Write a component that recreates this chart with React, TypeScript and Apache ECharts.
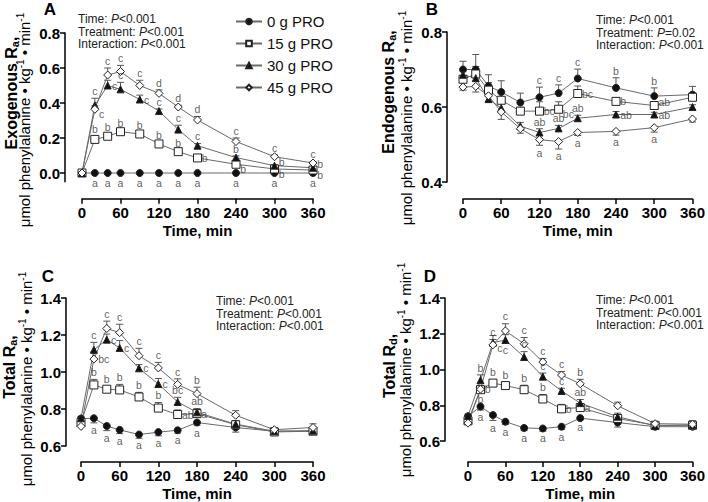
import React, { useEffect, useRef } from 'react';
import * as echarts from 'echarts';

const FONT = '"Liberation Sans", Arial, Helvetica, sans-serif';

// ---------- shared ----------
const times = [0, 20, 40, 60, 90, 120, 150, 180, 240, 300, 360];
const groups = ['0 g PRO', '15 g PRO', '30 g PRO', '45 g PRO'];
const xTicks = [0, 60, 120, 180, 240, 300, 360];

// Letter codes: "letter|place" with place u = above, d = below, r = right, ru / rd = right, nudged up / down

// ---------- Panel A: Exogenous Ra ----------
const exoMean0 = [0, 0, 0, 0, 0, 0, 0, 0, 0, 0, 0];
const exoMean15 = [0, 0.192, 0.21, 0.236, 0.223, 0.166, 0.122, 0.086, 0.05, 0.023, 0.017];
const exoMean30 = [0, 0.387, 0.5, 0.478, 0.42, 0.354, 0.248, 0.156, 0.088, 0.042, 0.03];
const exoMean45 = [0, 0.364, 0.56, 0.58, 0.5, 0.455, 0.377, 0.303, 0.18, 0.093, 0.057];
const exoSem0 = [0, 0, 0, 0, 0, 0, 0, 0, 0, 0, 0];
const exoSem15 = [0, 0.02, 0.01, 0.01, 0.01, 0.008, 0.006, 0.005, 0.005, 0.003, 0.003];
const exoSem30 = [0, 0.04, 0.03, 0.04, 0.025, 0.012, 0.025, 0.012, 0.01, 0.005, 0.005];
const exoSem45 = [0, 0.02, 0.04, 0.035, 0.03, 0.02, 0.01, 0.02, 0.02, 0.01, 0.008];
const exoLet0 = ['', 'a|d', 'a|d', 'a|d', 'a|d', 'a|d', 'a|d', 'a|d', 'a|d', 'a|d', 'a|d'];
const exoLet15 = ['', 'b|u', 'b|u', 'b|u', 'b|u', 'b|u', 'b|u', 'b|r', 'b|rd', 'b|rd', 'b|rd'];
const exoLet30 = ['', 'c|u', 'c|r', 'c|u', 'c|r', 'c|u', 'c|u', 'c|u', 'b|u', 'b|ru', 'b|ru'];
const exoLet45 = ['', 'c|rd', 'c|u', 'c|u', 'c|u', 'd|u', 'd|u', 'd|u', 'c|u', 'c|u', 'c|u'];
const exoTicks = [0, 0.2, 0.4, 0.6, 0.8];
const exoStats = [['Time', '<0.001'], ['Treatment', '<0.001'], ['Interaction', '<0.001']];

// ---------- Panel B: Endogenous Ra ----------
const endoMean0 = [0.7, 0.7, 0.656, 0.64, 0.612, 0.626, 0.637, 0.676, 0.651, 0.629, 0.633];
const endoMean15 = [0.674, 0.688, 0.645, 0.618, 0.589, 0.589, 0.594, 0.636, 0.615, 0.604, 0.626];
const endoMean30 = [0.686, 0.677, 0.621, 0.597, 0.549, 0.532, 0.543, 0.57, 0.58, 0.58, 0.6];
const endoMean45 = [0.653, 0.655, 0.63, 0.587, 0.542, 0.513, 0.508, 0.532, 0.535, 0.545, 0.568];
const endoSem0 = [0.022, 0.04, 0.03, 0.03, 0.025, 0.027, 0.022, 0.025, 0.027, 0.022, 0.022];
const endoSem15 = [0.01, 0.02, 0.02, 0.02, 0.01, 0.025, 0.02, 0.02, 0.01, 0.01, 0.01];
const endoSem30 = [0.01, 0.015, 0.015, 0.015, 0.01, 0.01, 0.008, 0.008, 0.008, 0.006, 0.006];
const endoSem45 = [0.008, 0.015, 0.015, 0.02, 0.012, 0.015, 0.02, 0.008, 0.01, 0.012, 0.008];
const endoLet0 = ['', '', '', '', '', 'c|u', 'c|u', 'c|u', 'b|u', 'b|u', ''];
const endoLet15 = ['', '', '', '', '', 'bc|r', 'bc|rd', 'bc|r', 'b|r', 'ab|ru', ''];
const endoLet30 = ['', '', '', '', '', 'ab|u', 'ab|u', 'ab|u', 'ab|r', 'ab|r', ''];
const endoLet45 = ['', '', '', '', '', 'a|d', 'a|d', 'a|d', 'a|d', 'a|d', ''];
const endoTicks = [0.4, 0.6, 0.8];
const endoStats = [['Time', '<0.001'], ['Treatment', '=0.02'], ['Interaction', '<0.001']];

// ---------- Panel C: Total Ra ----------
const raMean0 = [0.748, 0.75, 0.708, 0.687, 0.662, 0.675, 0.685, 0.727, 0.7, 0.68, 0.68];
const raMean15 = [0.727, 0.93, 0.907, 0.903, 0.865, 0.805, 0.77, 0.775, 0.715, 0.676, 0.68];
const raMean30 = [0.75, 1.12, 1.175, 1.13, 1.02, 0.935, 0.838, 0.782, 0.718, 0.68, 0.683];
const raMean45 = [0.706, 1.07, 1.235, 1.213, 1.088, 1.022, 0.933, 0.883, 0.766, 0.688, 0.7];
const raSem0 = [0.01, 0.025, 0.025, 0.02, 0.02, 0.02, 0.015, 0.015, 0.025, 0.01, 0.01];
const raSem15 = [0.01, 0.03, 0.015, 0.03, 0.025, 0.03, 0.025, 0.025, 0.02, 0.015, 0.01];
const raSem30 = [0.01, 0.04, 0.03, 0.04, 0.02, 0.03, 0.025, 0.02, 0.02, 0.01, 0.01];
const raSem45 = [0.01, 0.04, 0.04, 0.045, 0.04, 0.03, 0.03, 0.035, 0.025, 0.01, 0.02];
const raLet0 = ['', 'a|d', 'a|d', 'a|d', 'a|d', 'a|d', 'a|d', 'a|d', '', '', ''];
const raLet15 = ['', 'b|u', 'b|u', 'b|u', 'b|u', 'b|u', 'ab|r', 'a|r', '', '', ''];
const raLet30 = ['', 'c|u', 'c|r', 'c|r', 'c|r', 'c|r', 'bc|u', 'ab|u', '', '', ''];
const raLet45 = ['', 'bc|r', 'c|u', 'c|u', 'c|u', 'c|u', 'c|u', 'b|u', '', '', ''];
const raTicks = [0.6, 0.8, 1.0, 1.2, 1.4];
const raStats = [['Time', '<0.001'], ['Treatment', '<0.001'], ['Interaction', '<0.001']];

// ---------- Panel D: Total Rd ----------
const rdMean0 = [0.738, 0.793, 0.745, 0.708, 0.673, 0.67, 0.68, 0.728, 0.703, 0.68, 0.68];
const rdMean15 = [0.713, 0.887, 0.924, 0.91, 0.887, 0.835, 0.78, 0.787, 0.726, 0.688, 0.688];
const rdMean30 = [0.74, 0.94, 1.15, 1.165, 1.07, 0.96, 0.88, 0.812, 0.736, 0.685, 0.69];
const rdMean45 = [0.7, 0.89, 1.138, 1.216, 1.144, 1.042, 0.969, 0.92, 0.797, 0.697, 0.694];
const rdSem0 = [0.01, 0.02, 0.03, 0.015, 0.015, 0.015, 0.015, 0.01, 0.025, 0.015, 0.01];
const rdSem15 = [0.01, 0.02, 0.02, 0.02, 0.025, 0.025, 0.025, 0.02, 0.02, 0.01, 0.01];
const rdSem30 = [0.01, 0.03, 0.04, 0.03, 0.03, 0.02, 0.015, 0.02, 0.02, 0.01, 0.01];
const rdSem45 = [0.01, 0.02, 0.03, 0.04, 0.035, 0.02, 0.02, 0.025, 0.02, 0.01, 0.02];
const rdLet0 = ['', 'a|d', 'a|d', 'a|d', 'a|d', 'a|d', 'a|d', 'a|d', '', '', ''];
const rdLet15 = ['', 'b|d', 'b|u', 'b|u', 'b|u', 'b|u', 'b|r', 'a|r', '', '', ''];
const rdLet30 = ['', 'b|u', 'c|rd', 'c|d', 'c|u', 'c|u', 'c|u', 'ab|u', '', '', ''];
const rdLet45 = ['', 'b|r', 'c|u', 'c|u', 'c|u', 'c|u', 'c|u', 'b|u', '', '', ''];
const rdTicks = [0.6, 0.8, 1.0, 1.2, 1.4];
const rdStats = [['Time', '<0.001'], ['Treatment', '<0.001'], ['Interaction', '<0.001']];

// ---------- styling ----------
const symbols = ['circle', 'rect', 'triangle', 'diamond'];
const symbolSizes = [7, 8, 7, 8];
const fills = ['#111', '#fff', '#111', '#fff'];
const LINE = '#6a6a6a';
const BAR = '#555';
const LETTER = '#333';

type Panel = {
  letter: string;
  means: number[][];
  sems: number[][];
  lets: string[][];
  dirs: number[];
  ticks: number[];
  yMin: number;
  yMax: number;
  grid: { left: number; top: number; width: number; height: number };
  yOffset: number;
  xOffset: number;
  stats: string[][];
  statsPos: [number, number];
  letterPos: [number, number];
  title1: string;
  title2: string;
  t1: [number, number];
  t2: [number, number];
};

const unitLine = 'μmol phenylalanine • kg{sup|-1} • min{sup|-1}';

const panels: Panel[] = [
  {
    letter: 'A', means: [exoMean0, exoMean15, exoMean30, exoMean45], sems: [exoSem0, exoSem15, exoSem30, exoSem45],
    lets: [exoLet0, exoLet15, exoLet30, exoLet45], dirs: [1, 1, 1, 1], ticks: exoTicks, yMin: -0.05, yMax: 0.8,
    grid: { left: 82, top: 33, width: 231, height: 148.75 }, yOffset: 17, xOffset: 17, stats: exoStats,
    statsPos: [78, 20], letterPos: [50, 9], title1: 'Exogenous R{sub|a},', title2: unitLine, t1: [11, 93], t2: [24, 120],
  },
  {
    letter: 'B', means: [endoMean0, endoMean15, endoMean30, endoMean45], sems: [endoSem0, endoSem15, endoSem30, endoSem45],
    lets: [endoLet0, endoLet15, endoLet30, endoLet45], dirs: [1, 1, 1, -1], ticks: endoTicks, yMin: 0.4, yMax: 0.8,
    grid: { left: 463, top: 32, width: 232, height: 150 }, yOffset: 16, xOffset: 17, stats: endoStats,
    statsPos: [596, 21], letterPos: [432, 9], title1: 'Endogenous R{sub|a},', title2: unitLine, t1: [388, 92], t2: [406, 118],
  },
  {
    letter: 'C', means: [raMean0, raMean15, raMean30, raMean45], sems: [raSem0, raSem15, raSem30, raSem45],
    lets: [raLet0, raLet15, raLet30, raLet45], dirs: [-1, 1, 1, 1], ticks: raTicks, yMin: 0.6, yMax: 1.4,
    grid: { left: 81, top: 298, width: 232, height: 148 }, yOffset: 15, xOffset: 16, stats: raStats,
    statsPos: [216, 302], letterPos: [48, 276], title1: 'Total R{sub|a},', title2: unitLine, t1: [9, 367], t2: [26, 379],
  },
  {
    letter: 'D', means: [rdMean0, rdMean15, rdMean30, rdMean45], sems: [rdSem0, rdSem15, rdSem30, rdSem45],
    lets: [rdLet0, rdLet15, rdLet30, rdLet45], dirs: [-1, 1, 1, 1], ticks: rdTicks, yMin: 0.6, yMax: 1.4,
    grid: { left: 468, top: 298, width: 225, height: 143 }, yOffset: 23, xOffset: 21, stats: rdStats,
    statsPos: [596, 301], letterPos: [430, 276], title1: 'Total R{sub|d},', title2: unitLine, t1: [389, 366], t2: [405, 370],
  },
];

function letterItems(means: number[], sems: number[], lets: string[], dir: number) {
  const items: any[] = [];
  times.forEach((t, j) => {
    const code = lets[j];
    if (!code) return;
    const [txt, place] = code.split('|');
    const v = means[j];
    const e = sems[j];
    if (place === 'u') {
      const hasBar = dir > 0 && e > 0;
      items.push({ value: [t, hasBar ? v + e : v], label: { formatter: txt, position: 'top', distance: hasBar ? 1.5 : 4 } });
    } else if (place === 'd') {
      const hasBar = dir < 0 && e > 0;
      items.push({ value: [t, hasBar ? v - e : v], label: { formatter: txt, position: 'bottom', distance: hasBar ? 1.5 : 4 } });
    } else {
      const dy = place === 'ru' ? -4 : place === 'rd' ? 5 : 0;
      items.push({ value: [t, v], label: { formatter: txt, position: 'right', distance: 4, offset: [0, dy] } });
    }
  });
  return items;
}

function buildOption() {
  const grid: any[] = [];
  const xAxis: any[] = [];
  const yAxis: any[] = [];
  const series: any[] = [];
  const graphic: any[] = [];

  panels.forEach((p, i) => {
    grid.push({ ...p.grid, containLabel: false });
    xAxis.push({
      type: 'value', gridIndex: i, min: 0, max: 360, interval: 60, offset: p.xOffset,
      axisLine: { show: true, onZero: false, lineStyle: { color: '#000', width: 1.5 } },
      axisTick: { show: true, length: 5, customValues: xTicks, lineStyle: { color: '#000', width: 1.5 } },
      axisLabel: { customValues: xTicks, fontSize: 15, fontWeight: 'bold', color: '#000', margin: 6, fontFamily: FONT },
      splitLine: { show: false },
      name: 'Time, min', nameLocation: 'middle', nameGap: 24,
      nameTextStyle: { fontSize: 15, fontWeight: 'bold', color: '#000', fontFamily: FONT },
    });
    yAxis.push({
      type: 'value', gridIndex: i, min: p.yMin, max: p.yMax, offset: p.yOffset,
      axisLine: { show: true, onZero: false, lineStyle: { color: '#000', width: 1.5 } },
      axisTick: { show: true, length: 5, customValues: p.ticks, lineStyle: { color: '#000', width: 1.5 } },
      axisLabel: {
        customValues: p.ticks, formatter: (v: number) => v.toFixed(1),
        fontSize: 15, fontWeight: 'bold', color: '#000', margin: 5, fontFamily: FONT,
      },
      splitLine: { show: false },
    });

    groups.forEach((g, k) => {
      const means = p.means[k];
      const sems = p.sems[k];
      const lets = p.lets[k];
      const dir = p.dirs[k];
      const data = times.map((t, j) => [t, means[j]]);
      // error bars
      series.push({
        type: 'custom', name: 'err-' + p.letter + k, xAxisIndex: i, yAxisIndex: i, z: 1, silent: true,
        itemStyle: { color: BAR },
        data,
        renderItem: (params: any, api: any) => {
          const j = params.dataIndex;
          const e = sems[j];
          if (!e) return null;
          const t = api.value(0);
          const v = api.value(1);
          const p0 = api.coord([t, v]);
          const p1 = api.coord([t, v + dir * e]);
          return {
            type: 'group',
            children: [
              { type: 'line', shape: { x1: p0[0], y1: p0[1], x2: p1[0], y2: p1[1] }, style: { stroke: BAR, lineWidth: 1 } },
              { type: 'line', shape: { x1: p1[0] - 3.5, y1: p1[1], x2: p1[0] + 3.5, y2: p1[1] }, style: { stroke: BAR, lineWidth: 1 } },
            ],
          };
        },
      });
      // lines + markers
      series.push({
        type: 'line', name: g, xAxisIndex: i, yAxisIndex: i, z: 3, data,
        symbol: symbols[k], symbolSize: symbolSizes[k], showAllSymbol: true,
        itemStyle: { color: fills[k], borderColor: '#222', borderWidth: 1 },
        lineStyle: { color: LINE, width: 1 },
        emphasis: { disabled: true },
      });
      // significance letters
      series.push({
        type: 'scatter', name: 'let-' + p.letter + k, xAxisIndex: i, yAxisIndex: i, z: 4, silent: true, clip: false,
        symbol: 'circle', symbolSize: 0.5, itemStyle: { color: 'rgba(0,0,0,0)' },
        label: { show: true, color: LETTER, fontSize: 10.5, fontFamily: FONT },
        emphasis: { disabled: true },
        data: letterItems(means, sems, lets, dir),
      });
    });

    // stats text
    graphic.push({
      type: 'text', left: p.statsPos[0], top: p.statsPos[1] - 7, silent: true,
      style: {
        text: p.stats.map((s) => `${s[0]}: {i|P}${s[1]}`).join('\n'),
        fontSize: 12, fontFamily: FONT, fill: '#222', lineHeight: 12.5,
        rich: { i: { fontStyle: 'italic', fontSize: 12, fontFamily: FONT, fill: '#222', lineHeight: 12.5 } },
      },
    });
    // panel letter
    graphic.push({
      type: 'text', x: p.letterPos[0], y: p.letterPos[1], silent: true,
      style: { text: p.letter, fontSize: 17, fontWeight: 'bold', fontFamily: FONT, fill: '#000', align: 'center', verticalAlign: 'middle' },
    });
    // y axis titles (two lines)
    graphic.push({
      type: 'text', x: p.t1[0], y: p.t1[1], rotation: Math.PI / 2, silent: true,
      style: {
        text: p.title1, fontSize: 16, fontWeight: 'bold', fontFamily: FONT, fill: '#000', align: 'center', verticalAlign: 'middle', lineHeight: 18,
        rich: { sub: { fontSize: 11, fontWeight: 'bold', fontFamily: FONT, fill: '#000', verticalAlign: 'bottom', lineHeight: 18 } },
      },
    });
    graphic.push({
      type: 'text', x: p.t2[0], y: p.t2[1], rotation: Math.PI / 2, silent: true,
      style: {
        text: p.title2, fontSize: 15, fontFamily: FONT, fill: '#000', align: 'center', verticalAlign: 'middle', lineHeight: 18,
        rich: { sup: { fontSize: 10, fontFamily: FONT, fill: '#000', verticalAlign: 'top', lineHeight: 18 } },
      },
    });
  });

  return {
    animation: false,
    backgroundColor: '#fff',
    textStyle: { fontFamily: FONT },
    legend: {
      data: groups, orient: 'vertical', left: 230, top: 9,
      itemWidth: 26, itemHeight: 7, itemGap: 7, selectedMode: false,
      textStyle: { fontSize: 15, color: '#111', fontFamily: FONT },
    },
    grid, xAxis, yAxis, series, graphic,
  };
}

export default function App() {
  const ref = useRef<HTMLDivElement>(null);
  useEffect(() => {
    if (!ref.current) return;
    const chart = echarts.init(ref.current, null, { renderer: 'svg' });
    chart.setOption(buildOption() as any);
    return () => chart.dispose();
  }, []);
  return (
    <div
      ref={ref}
      style={{ position: 'fixed', left: 0, top: 0, width: 708, height: 502, background: '#fff', opacity: 0.999 }}
    />
  );
}
